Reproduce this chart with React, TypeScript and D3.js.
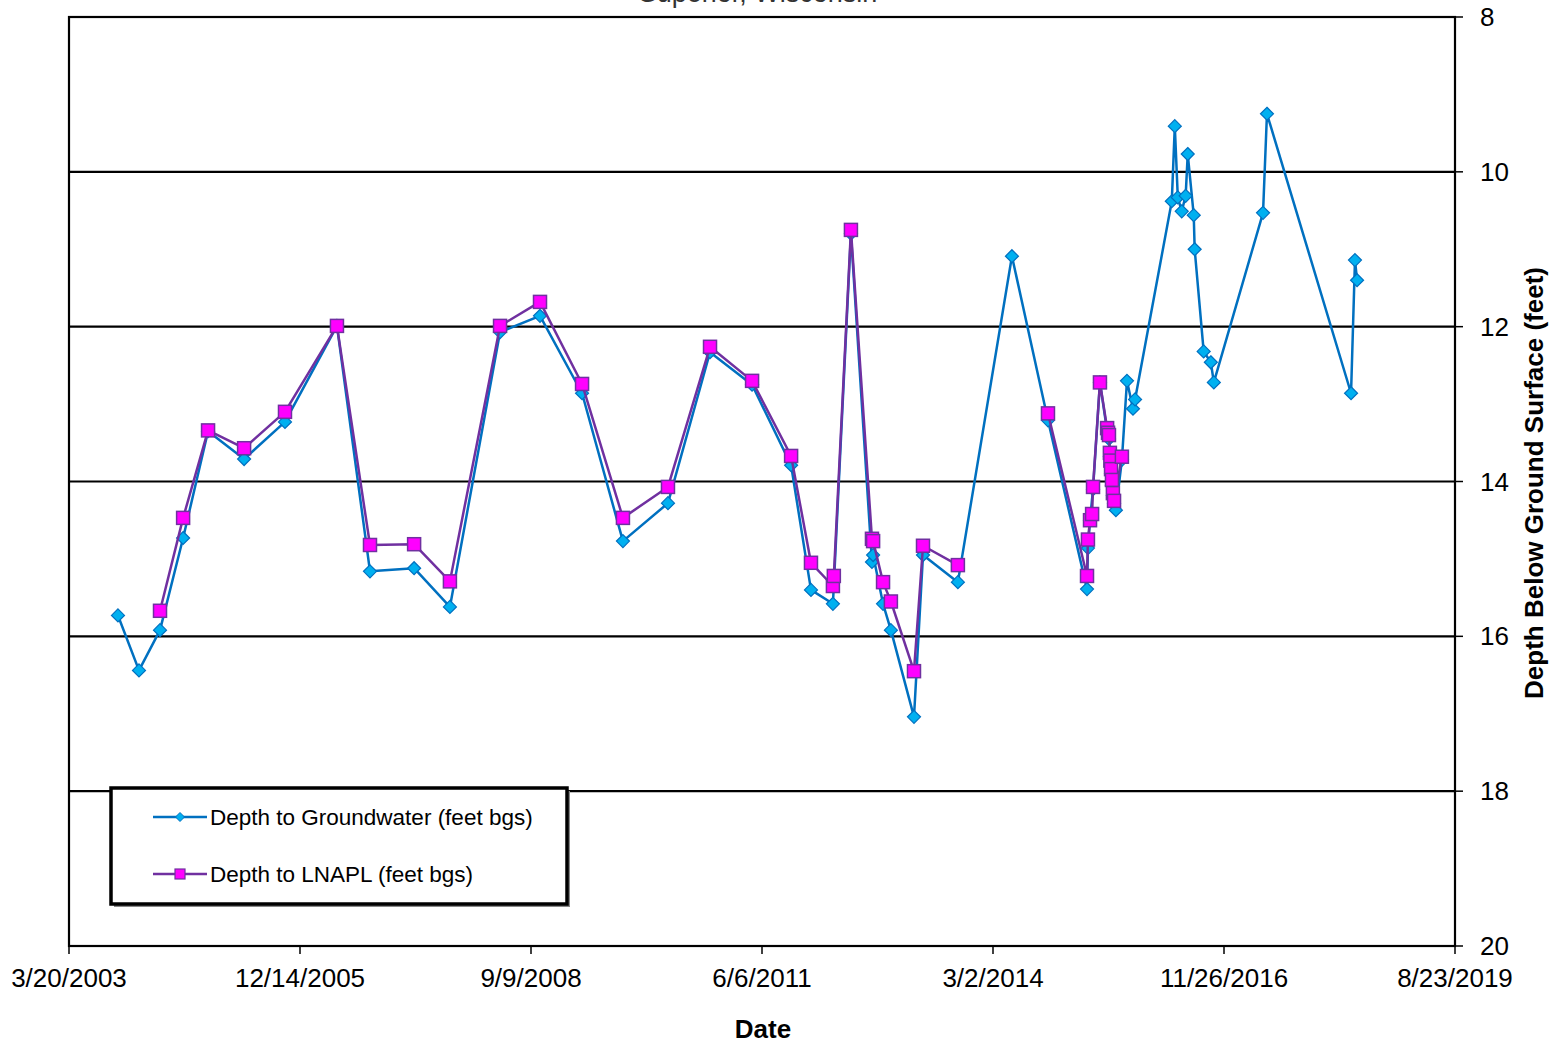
import React from "react";
import * as d3 from "d3";

const title = "Superior, Wisconsin";
const xTitle = "Date";
const yTitle = "Depth Below Ground Surface (feet)";
const gwName = "Depth to Groundwater (feet bgs)";
const lnName = "Depth to LNAPL (feet bgs)";

const xDomain = ["2003-03-20", "2019-08-23"];
const xTickStepDays = 1000;
const yTicks = [8, 10, 12, 14, 16, 18, 20];

const gwDates = [
  "2003-10-18", "2004-01-17", "2004-04-17", "2004-07-26", "2004-11-11", "2005-04-16", "2005-10-10",
  "2006-05-23", "2006-10-13", "2007-04-22", "2007-09-24", "2008-04-28", "2008-10-18", "2009-04-18",
  "2009-10-12", "2010-04-25", "2010-10-24", "2011-04-24", "2011-10-10", "2012-01-04", "2012-04-08",
  "2012-06-25", "2012-09-24", "2012-09-29", "2012-11-11", "2012-12-15", "2013-03-25", "2013-05-03",
  "2013-10-01", "2014-05-23", "2014-10-26", "2015-04-13", "2015-04-17", "2015-04-26", "2015-05-09",
  "2015-06-08", "2015-07-09", "2015-07-13", "2015-07-17", "2015-07-21", "2015-07-26", "2015-07-30",
  "2015-08-03", "2015-08-08", "2015-08-16", "2015-09-11", "2015-10-03", "2015-10-29", "2015-11-07",
  "2016-04-14", "2016-04-27", "2016-05-10", "2016-05-27", "2016-06-13", "2016-06-22", "2016-07-18",
  "2016-07-22", "2016-08-30", "2016-09-30", "2016-10-13", "2017-05-14", "2017-05-31", "2018-05-30",
  "2018-06-16", "2018-06-25",
];
const gwValues = [
  15.73, 16.44, 15.92, 14.73, 13.35, 13.71, 13.23,
  11.99, 15.16, 15.12, 15.62, 12.07, 11.86, 12.86,
  14.77, 14.28, 12.33, 12.75, 13.79, 15.4, 15.58,
  10.8, 15.04, 14.95, 15.58, 15.92, 17.04, 14.95,
  15.3, 11.09, 13.21, 15.39, 14.86, 14.5, 14.1,
  12.72, 13.35, 13.4, 13.45, 13.68, 13.9, 14.05,
  14.18, 14.28, 14.37, 13.72, 12.7, 13.06, 12.94,
  10.38, 9.41, 10.33, 10.51, 10.31, 9.77, 10.56,
  11.0, 12.32, 12.46, 12.72, 10.53, 9.25, 12.86,
  11.14, 11.4,
];

const lnDates = [
  "2004-04-17", "2004-07-26", "2004-11-11", "2005-04-16", "2005-10-10", "2006-05-23", "2006-10-13",
  "2007-04-22", "2007-09-24", "2008-04-28", "2008-10-18", "2009-04-18", "2009-10-12", "2010-04-25",
  "2010-10-24", "2011-04-24", "2011-10-10", "2012-01-04", "2012-04-08", "2012-04-12", "2012-06-25",
  "2012-09-24", "2012-09-29", "2012-11-11", "2012-12-15", "2013-03-25", "2013-05-03", "2013-10-01",
  "2014-05-23", "2014-10-26", "2015-04-13", "2015-04-17", "2015-04-26", "2015-05-05", "2015-05-09",
  "2015-06-08", "2015-07-09", "2015-07-13", "2015-07-17", "2015-07-21", "2015-07-23", "2015-07-26",
  "2015-07-30", "2015-08-03", "2015-08-08", "2015-09-11",
];
const lnValues: (number | null)[] = [
  15.67, 14.47, 13.34, 13.57, 13.1, 11.99, 14.82,
  14.81, 15.29, 11.99, 11.68, 12.74, 14.47, 14.07,
  12.26, 12.7, 13.67, 15.05, 15.35, 15.22, 10.75,
  14.74, 14.77, 15.3, 15.55, 16.45, 14.83, 15.08,
  null, 13.12, 15.22, 14.75, 14.5, 14.42, 14.07,
  12.72, 13.31, 13.37, 13.4, 13.63, 13.73, 13.84,
  13.98, 14.15, 14.25, 13.68,
];

const FONT = "Arial, 'Liberation Sans', sans-serif";
const GW_LINE = "#0070C0";
const GW_FILL = "#00B0F0";
const LN_LINE = "#7030A0";
const LN_FILL = "#FF00FF";

const parse = d3.utcParse("%Y-%m-%d");
const fmt = d3.utcFormat("%-m/%-d/%Y");

const diamond = (r: number) => `M0,${-r}L${r},0L0,${r}L${-r},0Z`;

export default function App() {
  const W = 1549, H = 1044;
  const left = 69, right = 1455, top = 17, bottom = 946;
  const x0 = parse(xDomain[0])!, x1 = parse(xDomain[1])!;
  const x = d3.scaleUtc().domain([x0, x1]).range([left, right]);
  const y = d3.scaleLinear().domain([8, 20]).range([top, bottom]);

  const xTicks: Date[] = [];
  for (let t = x0; t <= x1; t = d3.utcDay.offset(t, xTickStepDays)) xTicks.push(t);

  const gw = gwDates.map((d, i) => ({ date: parse(d)!, v: gwValues[i] }));
  const ln = lnDates.map((d, i) => ({ date: parse(d)!, v: lnValues[i] }));

  const line = d3
    .line<{ date: Date; v: number | null }>()
    .defined((d) => d.v !== null)
    .x((d) => x(d.date))
    .y((d) => y(d.v as number));

  const lx = 111, ly = 788, lw = 456, lh = 116;

  return (
    <svg width={W} height={H} style={{ position: "absolute", left: 0, top: 0, background: "#fff" }}
      fontFamily={FONT}>
      <rect x={0} y={0} width={W} height={H} fill="#fff" />
      <text x={758} y={2} textAnchor="middle" fontSize={27} fill="#333">{title}</text>

      {/* gridlines */}
      {yTicks.slice(1, -1).map((t) => (
        <line key={t} x1={left} x2={right} y1={y(t)} y2={y(t)} stroke="#000" strokeWidth={2.2} />
      ))}
      {/* frame */}
      <rect x={left} y={top} width={right - left} height={bottom - top} fill="none" stroke="#000" strokeWidth={2.2} />

      {/* right axis ticks */}
      {yTicks.map((t) => (
        <g key={t}>
          <line x1={right} x2={right + 8} y1={y(t)} y2={y(t)} stroke="#000" strokeWidth={1.5} />
          <text x={right + 25} y={y(t)} dy="0.35em" fontSize={26} fill="#000">{t}</text>
        </g>
      ))}
      {/* bottom axis ticks */}
      {xTicks.map((t, i) => (
        <g key={i}>
          <line x1={x(t)} x2={x(t)} y1={bottom} y2={bottom + 8} stroke="#000" strokeWidth={1.5} />
          <text x={x(t)} y={987} textAnchor="middle" fontSize={26} fill="#000">{fmt(t)}</text>
        </g>
      ))}

      <text x={763} y={1038} textAnchor="middle" fontSize={26} fontWeight="bold">{xTitle}</text>
      <text transform={`translate(1543,483) rotate(-90)`} textAnchor="middle" fontSize={26} fontWeight="bold">{yTitle}</text>

      {/* groundwater series */}
      <path d={line(gw) || ""} fill="none" stroke={GW_LINE} strokeWidth={2.5} strokeLinejoin="round" />
      {gw.map((d, i) => (
        <path key={i} d={diamond(6.5)} transform={`translate(${x(d.date)},${y(d.v)})`}
          fill={GW_FILL} stroke={GW_LINE} strokeWidth={1.2} />
      ))}

      {/* LNAPL series */}
      <path d={line(ln) || ""} fill="none" stroke={LN_LINE} strokeWidth={2.5} strokeLinejoin="round" />
      {ln.filter((d) => d.v !== null).map((d, i) => (
        <rect key={i} x={x(d.date) - 6.5} y={y(d.v as number) - 6.5} width={13} height={13}
          fill={LN_FILL} stroke={LN_LINE} strokeWidth={1.5} />
      ))}

      {/* legend */}
      <rect x={lx + 3} y={ly + 3} width={lw} height={lh} fill="#888" />
      <rect x={lx} y={ly} width={lw} height={lh} fill="#fff" stroke="#000" strokeWidth={3.5} />
      <line x1={153} x2={207} y1={817} y2={817} stroke={GW_LINE} strokeWidth={2.5} />
      <path d={diamond(4.5)} transform="translate(180,817)" fill={GW_FILL} stroke={GW_LINE} strokeWidth={1} />
      <text x={210} y={817} dy="0.35em" fontSize={22.5}>{gwName}</text>
      <line x1={153} x2={207} y1={874} y2={874} stroke={LN_LINE} strokeWidth={2.5} />
      <rect x={175} y={869} width={10} height={10} fill={LN_FILL} stroke={LN_LINE} strokeWidth={1.2} />
      <text x={210} y={874} dy="0.35em" fontSize={22.5}>{lnName}</text>
    </svg>
  );
}
